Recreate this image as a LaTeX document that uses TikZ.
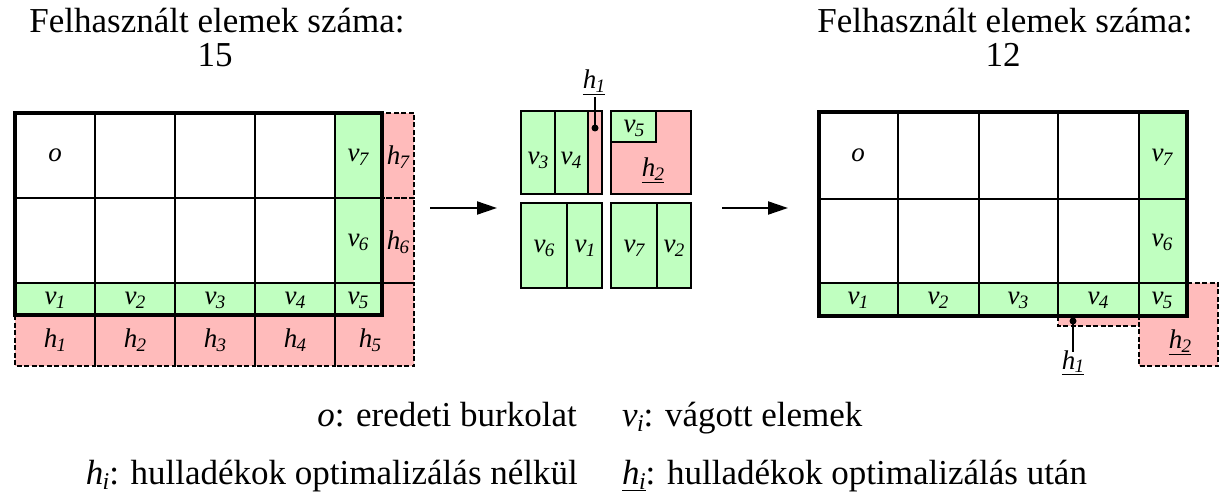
\documentclass[tikz,border=0pt]{standalone}
\usepackage{fontspec}
\setmainfont{Liberation Serif}
\usetikzlibrary{arrows.meta}
\definecolor{vg}{RGB}{192,255,192}
\definecolor{hr}{RGB}{255,187,187}
\def\subsz{20}
\newcommand\lb[2]{\textit{#1\kern-0.02em\raisebox{-0.32ex}{\fontsize{\subsz}{\subsz}\selectfont #2}}}
\newcommand\ulb[2]{\underline{\lb{#1}{#2}}}
\begin{document}
\begin{tikzpicture}[x=1pt,y=-1pt,
  cellline/.style={draw=black,line width=1.8pt},
  outer/.style={draw=black,line width=4pt,line join=miter},
  waste/.style={draw=black,line width=1.3pt,dash pattern=on 5pt off 2.5pt},
  blk/.style={draw=black,line width=2pt},
  lab/.style={font=\fontsize{27}{31}\selectfont\def\subsz{19},inner sep=0pt},
  ttl/.style={font=\fontsize{35}{40}\selectfont,inner sep=0pt,anchor=base},
  leg/.style={font=\fontsize{35}{40}\selectfont\def\subsz{24},inner sep=0pt},
  arr/.style={line width=2pt,-{Triangle[length=20pt,width=13pt]}},
  pin/.style={line width=2pt},
  dot/.style={fill=black}]
\useasboundingbox (0,0) rectangle (1219,497);

% ---------- titles ----------
\node[ttl] (t1) at (217,33) {Felhasznált elemek száma:};
\node[ttl] (n1) at (215,67) {15};
\node[ttl] (t2) at (1005,33) {Felhasznált elemek száma:};
\node[ttl] (n2) at (1003,67) {12};

% ---------- left grid ----------
\fill[vg] (15,283) rectangle (382,315);
\fill[vg] (335,113) rectangle (382,283);
\fill[hr] (382,113) rectangle (414,283);
\fill[hr] (15,315) rectangle (335,366);
\fill[hr] (382,283) -- (414,283) -- (414,366) -- (335,366) -- (335,315) -- (382,315) -- cycle;
\draw[waste] (382,113) rectangle (414,198);
\draw[waste] (382,198) rectangle (414,283);
\foreach \x in {15,95,175,255} \draw[waste] (\x,315) rectangle ++(80,51);
\draw[waste] (382,283) -- (414,283) -- (414,366) -- (335,366) -- (335,315) -- (382,315) -- cycle;
\foreach \x in {95,175,255,335} \draw[cellline] (\x,113) -- (\x,315);
\draw[cellline] (15,198) -- (382,198);
\draw[cellline] (15,283) -- (382,283);
\draw[outer] (15,113) rectangle (382,315);

\node[lab] (Lo) at (55,155) {\textit{o}};
\node[lab] (Lv7) at (358,157) {\lb{v}{7}};
\node[lab] (Lv6) at (358,242) {\lb{v}{6}};
\node[lab] (Lh7) at (398,157) {\lb{h}{7}};
\node[lab] (Lh6) at (398,242) {\lb{h}{6}};
\node[lab] (Lv1) at (55,300) {\lb{v}{1}};
\node[lab] (Lv2) at (135,300) {\lb{v}{2}};
\node[lab] (Lv3) at (215,300) {\lb{v}{3}};
\node[lab] (Lv4) at (295,300) {\lb{v}{4}};
\node[lab] (Lv5) at (358,300) {\lb{v}{5}};
\node[lab] (Lh1) at (55,340) {\lb{h}{1}};
\node[lab] (Lh2) at (135,340) {\lb{h}{2}};
\node[lab] (Lh3) at (215,340) {\lb{h}{3}};
\node[lab] (Lh4) at (295,340) {\lb{h}{4}};
\node[lab] (Lh5) at (370,340) {\lb{h}{5}};

% ---------- middle ----------
\fill[vg] (521,111) rectangle (588,194);
\fill[hr] (588,111) rectangle (602,194);
\draw[blk] (555,111) -- (555,194);
\draw[blk] (588,111) -- (588,194);
\draw[blk] (521,111) rectangle (602,194);

\fill[hr] (611,111) rectangle (691,194);
\fill[vg] (611,111) rectangle (656,142);
\draw[blk] (611,111) rectangle (656,142);
\draw[blk] (611,111) rectangle (691,194);

\fill[vg] (521,203) rectangle (602,288);
\draw[blk] (567,203) -- (567,288);
\draw[blk] (521,203) rectangle (602,288);

\fill[vg] (611,203) rectangle (691,288);
\draw[blk] (657,203) -- (657,288);
\draw[blk] (611,203) rectangle (691,288);

\node[lab] (Mv3) at (538,160) {\lb{v}{3}};
\node[lab] (Mv4) at (571,160) {\lb{v}{4}};
\node[lab] (Mv5) at (634,128) {\lb{v}{5}};
\node[lab] (Mh2) at (653,170) {\ulb{h}{2}};
\node[lab] (Mv6) at (544,248) {\lb{v}{6}};
\node[lab] (Mv1) at (585,248) {\lb{v}{1}};
\node[lab] (Mv7) at (634,248) {\lb{v}{7}};
\node[lab] (Mv2) at (674,248) {\lb{v}{2}};

\coordinate (md) at (595,128);
\node[lab,anchor=base] (Mh1) at (594,89) {\ulb{h}{1}};
\fill[dot] (md) circle (3.5pt);
\draw[pin] (md) -- (595,97);

% ---------- arrows ----------
\coordinate (a1s) at (430,208);
\coordinate (a1e) at (497,208);
\coordinate (a2s) at (722,208);
\coordinate (a2e) at (788,208);
\draw[arr] (a1s) -- (a1e);
\draw[arr] (a2s) -- (a2e);

% ---------- right grid ----------
\fill[vg] (819,283) rectangle (1187,316);
\fill[vg] (1139,112) rectangle (1187,283);
\fill[hr] (1058,316) rectangle (1139,326);
\fill[hr] (1187,283) -- (1218,283) -- (1218,366) -- (1139,366) -- (1139,316) -- (1187,316) -- cycle;
\draw[waste] (1058,316) rectangle (1139,326);
\draw[waste] (1187,283) -- (1218,283) -- (1218,366) -- (1139,366) -- (1139,316) -- (1187,316) -- cycle;
\foreach \x in {898,979,1058,1139} \draw[cellline] (\x,112) -- (\x,316);
\draw[cellline] (819,199) -- (1187,199);
\draw[cellline] (819,283) -- (1187,283);
\draw[outer] (819,112) rectangle (1187,316);

\node[lab] (Ro) at (858,155) {\textit{o}};
\node[lab] (Rv7) at (1162,157) {\lb{v}{7}};
\node[lab] (Rv6) at (1162,242) {\lb{v}{6}};
\node[lab] (Rv1) at (858,300) {\lb{v}{1}};
\node[lab] (Rv2) at (938,300) {\lb{v}{2}};
\node[lab] (Rv3) at (1018,300) {\lb{v}{3}};
\node[lab] (Rv4) at (1098,300) {\lb{v}{4}};
\node[lab] (Rv5) at (1162,300) {\lb{v}{5}};
\node[lab] (Rh2) at (1180,342) {\ulb{h}{2}};

\coordinate (rd) at (1073,321);
\node[lab,anchor=base] (Rh1) at (1073,369) {\ulb{h}{1}};
\fill[dot] (rd) circle (3.5pt);
\draw[pin] (rd) -- (1073,352);

% ---------- legend ----------
\node[leg,anchor=base east] (g1) at (577,426) {\textit{o}: eredeti burkolat};
\node[leg,anchor=base west] (g2) at (622,426) {\lb{v}{i}: vágott elemek};
\node[leg,anchor=base east] (g3) at (578,484) {\lb{h}{i}: hulladékok optimalizálás nélkül};
\node[leg,anchor=base west] (g4) at (622,484) {\ulb{h}{i}: hulladékok optimalizálás után};
\end{tikzpicture}
\end{document}
